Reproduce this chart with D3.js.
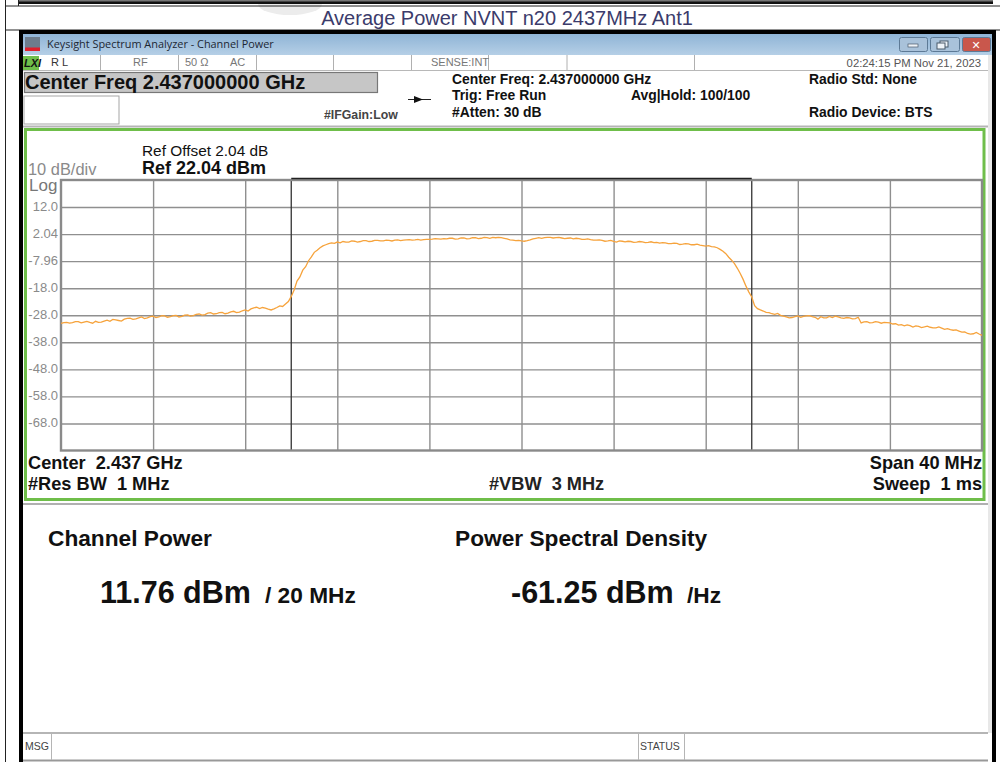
<!DOCTYPE html>
<html lang="en">
  <head>
    <meta charset="utf-8" />
    <title>Average Power NVNT n20 2437MHz Ant1</title>
    <script src="https://cdnjs.cloudflare.com/ajax/libs/d3/7.8.5/d3.min.js"></script>
    <style type="text/css">
      html,
      body {
        margin: 0;
        padding: 0;
        background: #fff;
      }
      svg {
        display: block;
      }
      text {
        font-family: "Liberation Sans", Arial, sans-serif;
      }
      .grid line {
        stroke: #8f8f8f;
        stroke-width: 1.4;
      }
      .grid path {
        display: none;
      }
      .grid text {
        fill: #8a8a8a;
        font-family: "Liberation Sans", Arial, sans-serif;
        font-size: 13px;
      }
      .trace {
        fill: none;
        stroke: #f6a33c;
        stroke-width: 1.3;
      }
    </style>
  </head>

  <body>
    <div id="chart"></div>

    <script>
      // chart values
      const centerMHz = 2437;
      const spanMHz = 40;
      const refLevel = 22.04;
      const dbPerDiv = 10;
      const yTickValues = [12.04, 2.04, -7.96, -17.96, -27.96, -37.96, -47.96, -57.96, -67.96];
      const yTickLabels = ["12.0", "2.04", "-7.96", "-18.0", "-28.0", "-38.0", "-48.0", "-58.0", "-68.0"];
      const xDivisions = [2421, 2425, 2429, 2433, 2437, 2441, 2445, 2449, 2453];
      const channelEdges = [2427, 2447];
      const statusLabels = ["R L", "RF", "50 Ω", "AC", "SENSE:INT"];

      // trace level in dBm, one reading every 0.125 MHz from 2417 MHz (one row = 2 MHz)
      const traceStep = 0.125;
      const traceLevels = [
        -31.0, -30.7, -30.6, -30.9, -30.7, -30.3, -30.3, -30.8, -30.5, -30.2, -30.6, -30.9, -30.2, -30.6, -30.5, -30.1,
        -29.8, -30.2, -29.5, -29.7, -29.9, -30.1, -29.4, -29.1, -29.0, -29.5, -29.3, -28.9, -28.6, -29.2, -28.9, -28.5,
        -28.3, -28.8, -28.6, -28.1, -28.2, -28.7, -28.5, -28.1, -28.0, -28.6, -28.4, -27.9, -27.8, -28.3, -28.1, -27.6,
        -27.5, -27.9, -27.7, -27.2, -27.0, -27.5, -27.4, -27.0, -26.9, -27.4, -27.2, -26.7, -26.5, -27.0, -26.8, -26.3,
        -26.0, -26.4, -25.6, -25.2, -25.0, -25.5, -25.1, -25.3, -25.7, -26.0, -25.6, -25.1, -24.5, -24.7, -23.8, -22.9,
        -21.0, -18.6, -15.3, -13.8, -11.3, -10.0, -7.8, -6.4, -4.7, -3.9, -3.0, -2.3, -1.9, -1.5, -1.2, -1.4,
        -0.9, -1.2, -0.7, -0.9, -0.9, -0.5, -0.6, -0.9, -0.7, -0.4, -0.4, -0.7, -0.6, -0.3, -0.3, -0.5,
        -0.5, -0.2, -0.3, -0.5, -0.2, -0.1, -0.4, -0.2, -0.1, 0.0, -0.2, -0.1, 0.1, -0.2, 0.0, 0.1,
        0.1, 0.2, 0.4, 0.3, 0.2, 0.4, 0.3, 0.5, 0.5, 0.2, 0.3, 0.6, 0.6, 0.3, 0.4, 0.7,
        0.7, 0.4, 0.5, 0.8, 0.7, 0.5, 0.8, 0.7, 0.85, 0.7, 0.5, 0.3, -0.1, -0.2, -0.4, -0.3,
        -0.5, -0.6, -0.4, -0.1, 0.3, 0.5, 0.7, 0.5, 0.75, 0.85, 0.85, 0.6, 0.7, 0.8, 0.6, 0.4,
        0.5, 0.6, 0.3, 0.5, 0.4, 0.1, 0.1, 0.3, 0.0, -0.2, -0.2, -0.1, -0.3, -0.6, -0.5, -0.3,
        -0.65, -0.9, -0.5, -0.6, -0.8, -0.6, -0.7, -1.0, -0.9, -0.7, -0.8, -1.1, -1.0, -0.8, -1.1, -1.0,
        -1.3, -1.1, -1.2, -1.5, -1.5, -1.3, -1.4, -1.8, -1.7, -1.5, -1.6, -1.9, -1.9, -1.7, -2.0, -2.2,
        -2.4, -2.2, -2.6, -2.7, -3.0, -3.6, -4.3, -5.2, -6.5, -7.6, -8.9, -10.6, -12.5, -14.7, -17.2, -19.4,
        -21.2, -24.4, -25.5, -26.0, -26.4, -26.9, -27.0, -27.4, -27.6, -27.3, -28.0, -28.3, -28.6, -28.9, -28.8, -28.5,
        -28.2, -28.7, -28.4, -28.2, -28.1, -28.5, -28.7, -29.4, -28.5, -28.9, -28.9, -28.4, -28.8, -28.3, -28.6, -28.9,
        -29.1, -28.8, -28.9, -29.3, -29.2, -28.7, -30.8, -30.4, -30.3, -30.8, -30.7, -30.3, -30.5, -30.9, -30.6, -30.7,
        -30.8, -31.2, -31.1, -31.6, -31.4, -31.9, -31.5, -31.8, -32.3, -31.9, -32.1, -32.5, -32.3, -32.0, -32.4, -32.6,
        -32.6, -32.3, -32.7, -33.2, -32.9, -33.3, -33.5, -33.4, -33.8, -34.2, -34.1, -34.7, -34.9, -34.8, -34.3, -34.9,
        -35.4,
      ];

      const outerWidth = 1000;
      const outerHeight = 762;
      const plot = { left: 61, right: 982, top: 180, bottom: 450.5 };

      const svg = d3
        .select("#chart")
        .append("svg")
        .attr("width", outerWidth)
        .attr("height", outerHeight);

      const x = d3
        .scaleLinear()
        .domain([centerMHz - spanMHz / 2, centerMHz + spanMHz / 2])
        .range([plot.left, plot.right]);
      const y = d3
        .scaleLinear()
        .domain([refLevel, refLevel - 10 * dbPerDiv])
        .range([plot.top, plot.bottom]);

      function rect(x0, y0, w, h, fill, stroke, sw) {
        return svg
          .append("rect")
          .attr("x", x0)
          .attr("y", y0)
          .attr("width", w)
          .attr("height", h)
          .attr("fill", fill || "none")
          .attr("stroke", stroke || "none")
          .attr("stroke-width", sw || 1);
      }

      function hline(x0, x1, yy, stroke, sw) {
        svg
          .append("line")
          .attr("x1", x0)
          .attr("x2", x1)
          .attr("y1", yy)
          .attr("y2", yy)
          .attr("stroke", stroke)
          .attr("stroke-width", sw || 1);
      }

      function vline(xx, y0, y1, stroke, sw) {
        svg
          .append("line")
          .attr("x1", xx)
          .attr("x2", xx)
          .attr("y1", y0)
          .attr("y2", y1)
          .attr("stroke", stroke)
          .attr("stroke-width", sw || 1);
      }

      function label(str, xx, yy, size, opts) {
        const o = opts || {};
        return svg
          .append("text")
          .attr("x", xx)
          .attr("y", yy)
          .attr("font-size", size)
          .attr("font-weight", o.bold ? "bold" : "normal")
          .attr("fill", o.fill || "#111")
          .attr("text-anchor", o.anchor || "start")
          .style("font-family", o.family || null)
          .style("white-space", "pre")
          .text(str);
      }

      // ---- document table around the screenshot
      svg
        .append("ellipse")
        .attr("cx", 290)
        .attr("cy", 4)
        .attr("rx", 32)
        .attr("ry", 11)
        .attr("fill", "#ececec");
      rect(19, 0, 974, 4, "#111");
      rect(19, 0, 974, 1.5, "#777");
      hline(5, 1000, 6, "#222", 1);
      hline(5, 1000, 30, "#222", 1);
      vline(5.5, 0, 762, "#222", 1);
      vline(18.5, 0, 6, "#222", 1);
      label("Average Power NVNT n20 2437MHz Ant1", 507, 25, 20, {
        anchor: "middle",
        fill: "#3b3b6b",
      });

      // ---- analyzer window frame
      const barGrad = svg
        .append("defs")
        .append("linearGradient")
        .attr("id", "bar")
        .attr("x1", 0)
        .attr("x2", 0)
        .attr("y1", 0)
        .attr("y2", 1);
      barGrad.append("stop").attr("offset", 0).attr("stop-color", "#8fb4d6");
      barGrad.append("stop").attr("offset", 1).attr("stop-color", "#b5cfe6");

      rect(19, 30, 977, 732, "#000");
      rect(23, 34, 969, 728, "#fff");
      rect(23, 34, 969, 21, "url(#bar)");
      rect(988, 55, 4, 707, "#e8e8e8");

      // title bar icon + caption
      rect(25, 37, 15, 14, "#6e7d8d");
      rect(25, 47.5, 15, 3.5, "#e0202c");
      label("Keysight Spectrum Analyzer - Channel Power", 47, 48, 10.9, {
        family: "'Open Sans', sans-serif",
        fill: "#1c2733",
      });

      // window buttons
      const winButtons = [
        { x0: 899, w: 28, fill: "#a9c2da" },
        { x0: 930, w: 29, fill: "#a9c2da" },
        { x0: 962, w: 28, fill: "#c9574c" },
      ];
      winButtons.forEach((b) => {
        rect(b.x0 + 0.5, 37.5, b.w, 14, b.fill, "#5d7a96", 1).attr("rx", 2);
      });
      rect(908, 44, 10, 3, "#eef3f8", "#4a5a6a", 0.7);
      rect(940, 41, 8, 6, "#eef3f8", "#4a5a6a", 1);
      rect(937, 43, 8, 6, "#eef3f8", "#4a5a6a", 1);
      label("✕", 976, 49, 11, { anchor: "middle", bold: true, fill: "#fff", family: "'DejaVu Sans', sans-serif" });

      // ---- status row
      rect(23, 55, 965, 15, "#fff");
      rect(23, 56, 16, 14, "#6fbe4a");
      label("LXI", 24, 67, 11, { bold: true, fill: "#111" }).attr("font-style", "italic");
      [100, 178, 256, 333, 411, 488, 566.5, 694].forEach((sx) =>
        vline(sx + 0.5, 55, 70, "#b0b0b0", 1)
      );
      hline(23, 988, 70.5, "#b8b8b8", 1);
      const statusX = [51, 133, 185, 230, 431];
      statusLabels.forEach((s, i) =>
        label(s, statusX[i], 66, 11, { fill: i === 0 ? "#333" : "#777" })
      );
      label("02:24:15 PM Nov 21, 2023", 981, 67, 11.3, { anchor: "end", fill: "#555" });

      // ---- header block
      rect(24.5, 72.5, 353, 20, "#c6c6c6", "#777", 1.2);
      label("Center Freq 2.437000000 GHz", 25, 89, 20, { bold: true });
      rect(24, 96, 95, 28, "#fff", "#a5a5a5", 1);
      label("#IFGain:Low", 324, 119, 12.3, { bold: true, fill: "#444" });

      // input coupling arrow
      hline(408, 431, 99.5, "#222", 1);
      svg
        .append("path")
        .attr("d", "M414,96 L414,103 L423,99.5 Z")
        .attr("fill", "#111");

      label("Center Freq: 2.437000000 GHz", 452, 84, 13.9, { bold: true });
      label("Trig: Free Run", 452, 100, 13.9, { bold: true });
      label("#Atten: 30 dB", 452, 117, 13.9, { bold: true });
      label("Avg|Hold: 100/100", 631, 100, 13.9, { bold: true });
      label("Radio Std: None", 809, 84, 13.9, { bold: true });
      label("Radio Device: BTS", 809, 117, 13.9, { bold: true });

      // ---- green measurement panel
      hline(23, 988, 126.5, "#b5b5b5", 2);
      rect(25.5, 129.5, 958.5, 370, "#fff", "#6fbe4a", 3);
      hline(23, 988, 504, "#b0b0b0", 2);

      label("Ref Offset 2.04 dB", 142, 156, 15.4, {});
      label("Ref 22.04 dBm", 142, 174, 18, { bold: true });
      label("10 dB/div", 28, 175, 16.4, { fill: "#8a8a8a" });
      label("Log", 29, 191, 17, { fill: "#777" });

      // grid from the axes, long ticks act as grid lines
      const gridY = svg
        .append("g")
        .attr("class", "grid")
        .attr("transform", `translate(${plot.left},0)`)
        .call(
          d3
            .axisLeft(y)
            .tickValues(yTickValues)
            .tickSize(-(plot.right - plot.left))
            .tickFormat((d, i) => yTickLabels[i])
        );
      gridY.selectAll("text").attr("x", -3).attr("dy", "0.25em");

      svg
        .append("g")
        .attr("class", "grid")
        .attr("transform", `translate(0,${plot.bottom})`)
        .call(
          d3
            .axisBottom(x)
            .tickValues(xDivisions)
            .tickSize(-(plot.bottom - plot.top))
            .tickFormat("")
        );

      // channel edge markers with the bracket on top
      channelEdges.forEach((f) =>
        vline(x(f), plot.top - 1, plot.bottom, "#333", 1.3)
      );

      rect(plot.left, plot.top, plot.right - plot.left, plot.bottom - plot.top, "none", "#8a8a8a", 2.4);
      hline(x(channelEdges[0]), x(channelEdges[1]), plot.top - 1.5, "#222", 1.4);

      const trace = d3
        .line()
        .curve(d3.curveLinear)
        .x((d, i) => x(centerMHz - spanMHz / 2 + i * traceStep))
        .y((d) => y(d));

      svg.append("path").datum(traceLevels).attr("class", "trace").attr("d", trace);

      // ---- settings under the plot
      label("Center  2.437 GHz", 28, 469, 18.2, { bold: true });
      label("#Res BW  1 MHz", 28, 490, 18.2, { bold: true });
      label("#VBW  3 MHz", 489, 490, 18.2, { bold: true, fill: "#222" });
      label("Span 40 MHz", 982, 469, 18.2, { bold: true, anchor: "end" });
      label("Sweep  1 ms", 982, 490, 18.2, { bold: true, anchor: "end" });

      // ---- results
      label("Channel Power", 48, 546, 22.7, { bold: true });
      label("Power Spectral Density", 455, 546, 22.7, { bold: true });
      label("11.76 dBm", 100, 603, 30.5, { bold: true });
      label("/ 20 MHz", 265, 603, 22.7, { bold: true });
      label("-61.25 dBm", 511, 603, 30.5, { bold: true });
      label("/Hz", 687, 603, 22.7, { bold: true });

      // ---- message bar
      hline(23, 988, 733, "#b5b5b5", 2);
      hline(23, 992, 760.5, "#999", 2);
      rect(988, 733, 4, 29, "#fff");
      vline(51.5, 733, 760, "#b5b5b5", 1);
      vline(638.5, 733, 760, "#b5b5b5", 1);
      vline(684.5, 733, 760, "#b5b5b5", 1);
      label("MSG", 25, 750, 10.5, { fill: "#444" });
      label("STATUS", 640, 750, 10.5, { fill: "#444" });
    </script>
  </body>
</html>
